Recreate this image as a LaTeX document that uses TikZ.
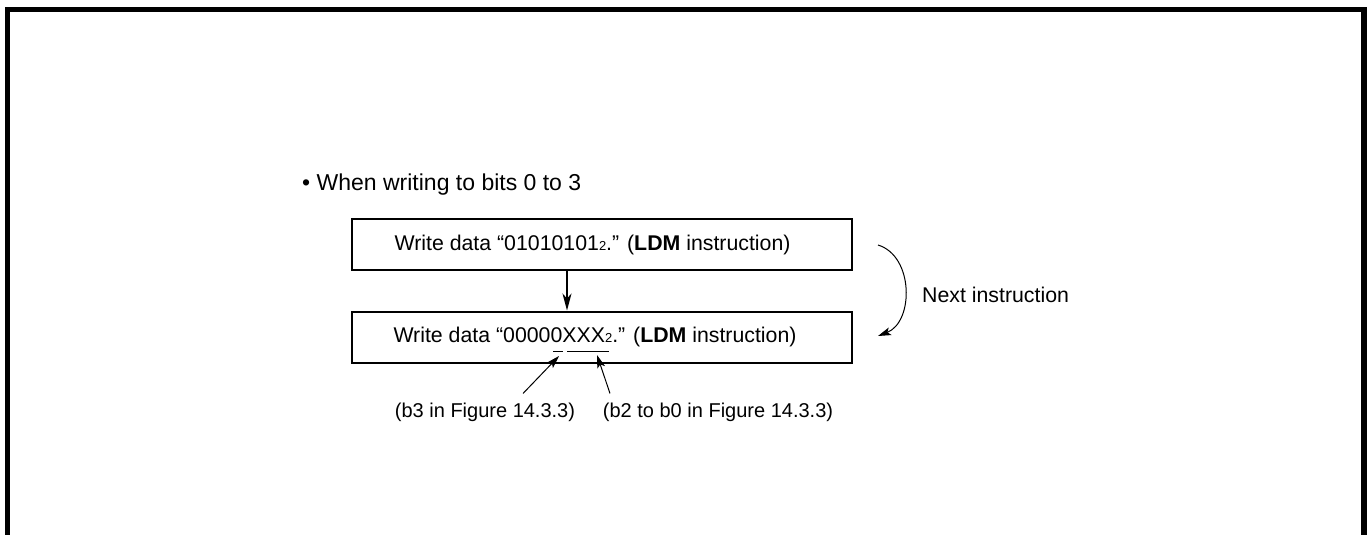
\documentclass[tikz,border=0pt]{standalone}
\usepackage{fontspec}
\setmainfont{Liberation Sans}
\usetikzlibrary{arrows.meta,calc}
\newcommand\smalltwo{{\fontsize{13}{13}\selectfont 2}}
\begin{document}
\begin{tikzpicture}[x=1pt,y=-1pt,
  txt/.style={font=\fontsize{21.3}{24}\selectfont, inner sep=0pt},
  lbl/.style={font=\fontsize{20}{24}\selectfont, inner sep=0pt},
  box/.style={draw, line width=2pt, minimum width=500pt, minimum height=51pt, inner sep=0pt},
  arr/.style={line width=1.3pt, -{Stealth[length=17pt,width=9pt,inset=5pt]}},
  thinarr/.style={line width=1pt, -{Stealth[length=13pt,width=8pt,inset=3pt]}}]
\useasboundingbox (0,0) rectangle (1367,535);
\draw[line width=5.5pt] (7.5,540) -- (7.5,9.5) -- (1364,9.5) -- (1364,540);
\node[font=\fontsize{23}{26}\selectfont, inner sep=0pt, anchor=west] (title) at (302,185) {\textbullet\ When writing to bits 0 to 3};
\node[box] (b1) at (602,244.5) {};
\node[txt] (b1t) at (592.5,244.5) {Write data “01010101\smalltwo.” (\textbf{LDM} instruction)};
\node[box] (b2) at (602,337) {};
\node[txt] (b2t) at (595,337) {Write data “00000XXX\smalltwo.” (\textbf{LDM} instruction)};
\draw[arr] (b1.south -| 567,0) -- (b2.north -| 567,0);
\coordinate (u0a) at (553,351); \coordinate (u0b) at (563,351);
\coordinate (uxa) at (567,351); \coordinate (uxb) at (609,351);
\draw[line width=1pt] (u0a) -- (u0b);
\draw[line width=1pt] (uxa) -- (uxb);
\node[lbl] (l3) at (485,412) {(b3 in Figure 14.3.3)};
\node[lbl] (l2) at (718,412) {(b2 to b0 in Figure 14.3.3)};
\coordinate (t3) at (559,356);
\coordinate (t2) at (597,355);
\draw[thinarr] ($(l3.north)+(38,-9)$) -- (t3);
\draw[thinarr] ($(l2.north)+(-108,-9)$) -- (t2);
\coordinate (c1) at (878,245);
\coordinate (c2) at (878,336);
\draw[thinarr] (c1) .. controls (914,256) and (914,322) .. (c2);
\node[txt, anchor=west] (next) at (922,295) {Next instruction};
\end{tikzpicture}
\end{document}
